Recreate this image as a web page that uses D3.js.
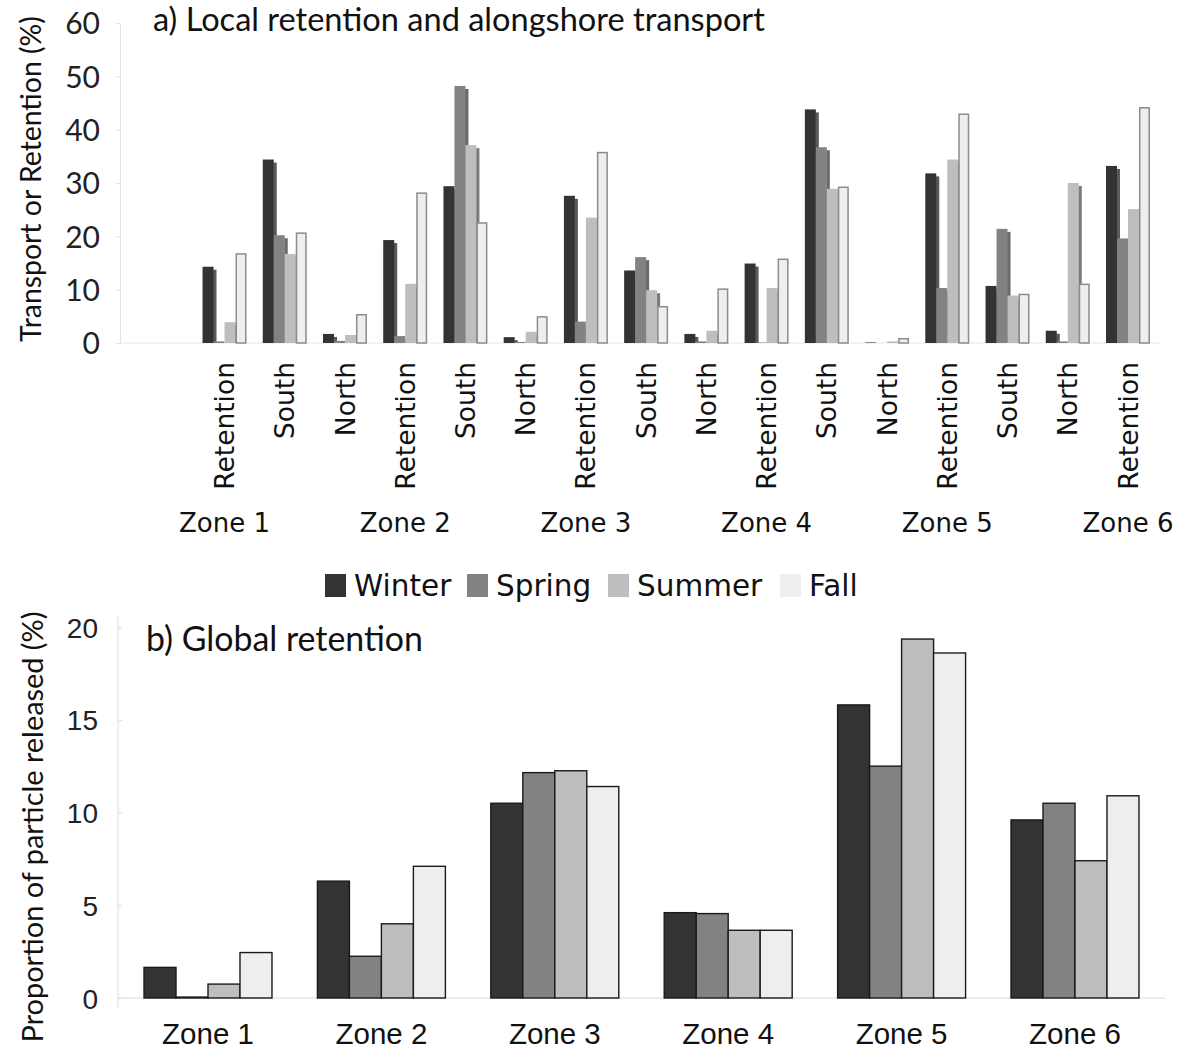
<!DOCTYPE html>
<html>
<head>
<meta charset="utf-8">
<script src="https://cdn.jsdelivr.net/npm/d3@7/dist/d3.min.js"></script>
<style>
  html, body { margin: 0; padding: 0; background: #fff; }
  svg { display: block; }
</style>
</head>
<body>
<svg id="chart" width="1191" height="1049"></svg>
<script>
// ---------- DATA ----------
const seasons = ["Winter", "Spring", "Summer", "Fall"];
const topCategories = ["Retention","South","North","Retention","South","North","Retention","South",
                       "North","Retention","South","North","Retention","South","North","Retention"];
const zoneLabels = ["Zone 1","Zone 2","Zone 3","Zone 4","Zone 5","Zone 6"];
// index of the category under which each zone label is written
const zoneLabelCategory = [0, 3, 6, 9, 12, 15];

const topWinter = [14.3, 34.4, 1.7, 19.3, 29.4, 1.1, 27.6, 13.6, 1.7, 14.9, 43.8, 0.1, 31.8, 10.7, 2.3, 33.2];
const topSpring = [0.3, 20.2, 0.4, 1.3, 48.2, 0.2, 4.0, 16.1, 0.3, 0.1, 36.7, 0.0, 10.3, 21.4, 0.3, 19.6];
const topSummer = [3.9, 16.7, 1.5, 11.1, 37.1, 2.1, 23.5, 9.9, 2.3, 10.3, 28.9, 0.3, 34.4, 8.9, 30.0, 25.1];
const topFall   = [16.7, 20.6, 5.3, 28.1, 22.5, 4.9, 35.7, 6.8, 10.1, 15.7, 29.2, 0.8, 42.9, 9.1, 11.0, 44.1];

const globalWinter = [1.65, 6.3, 10.5, 4.6, 15.8, 9.6];
const globalSpring = [0.05, 2.25, 12.15, 4.55, 12.5, 10.5];
const globalSummer = [0.75, 4.0, 12.25, 3.65, 19.35, 7.4];
const globalFall   = [2.45, 7.1, 11.4, 3.65, 18.6, 10.9];

const topTicks = [0, 10, 20, 30, 40, 50, 60];
const bottomTicks = [0, 5, 10, 15, 20];

// ---------- STYLE ----------
const fills   = { Winter: "#333333", Spring: "#828282", Summer: "#bebebe", Fall: "#eeeeee" };
const shadows = { Winter: "#5a5a5a", Spring: "#6a6a6a", Summer: "#7a7a7a", Fall: "none" };
const gill = "Lato, 'Open Sans', sans-serif";
const verd = "'DejaVu Sans', Verdana, sans-serif";
const helv = "'Liberation Sans', Arial, sans-serif";

const svg = d3.select("#chart");

function fitWidth(sel, target) {
  const node = sel.node();
  const fs = parseFloat(sel.attr("font-size"));
  const w = node.getComputedTextLength();
  if (w > 0) sel.attr("font-size", (fs * target / w).toFixed(2));
}

// =============== PANEL A ===============
const topSeries = { Winter: topWinter, Spring: topSpring, Summer: topSummer, Fall: topFall };
const xA = d3.scaleBand().domain(d3.range(topCategories.length))
  .range([194.4, 1158.1]).paddingInner(0.27).paddingOuter(0.135);
const xAin = d3.scaleBand().domain(seasons).range([0, xA.bandwidth()]);
const yA = d3.scaleLinear().domain([0, 60]).range([343, 23]);

const gA = svg.append("g");

// axis
const axA = gA.append("g").attr("transform", "translate(120,0)")
  .call(d3.axisLeft(yA).tickValues(topTicks).tickSize(4).tickFormat(d3.format("d")));
axA.select(".domain").attr("stroke", "#e2e2e2");
axA.selectAll(".tick line").attr("stroke", "#e2e2e2");
axA.selectAll(".tick text").attr("font-family", gill).attr("font-size", 30)
  .attr("fill", "#222").attr("x", -20).attr("dy", "0.36em");

// baseline
gA.append("line").attr("x1", 120).attr("x2", 1160).attr("y1", yA(0)).attr("y2", yA(0))
  .attr("stroke", "#e6e6e6");

// bars with shadow
topCategories.forEach((c, i) => {
  const g = gA.append("g").attr("transform", `translate(${xA(i)},0)`);
  seasons.forEach(s => {
    const v = topSeries[s][i];
    const x = xAin(s), w = xAin.bandwidth();
    const y = yA(v), h = yA(0) - yA(v);
    if (shadows[s] !== "none" && h > 3) {
      g.append("rect").attr("x", x + w - 0.5).attr("y", y + 3).attr("width", 3.5)
        .attr("height", Math.max(0, h - 3)).attr("fill", shadows[s]);
    }
    const r = g.append("rect").attr("x", x).attr("y", y).attr("width", w)
      .attr("height", h).attr("fill", fills[s]);
    if (s === "Fall") r.attr("stroke", "#8c8c8c").attr("stroke-width", 1.5)
      .attr("x", x + 0.75).attr("width", w - 1.5);
  });
});

// category labels (rotated)
topCategories.forEach((c, i) => {
  const cx = xA(i) + xA.bandwidth() / 2;
  gA.append("text").attr("transform", `translate(${cx},362) rotate(-90)`)
    .attr("text-anchor", "end").attr("dy", "0.36em")
    .attr("font-family", verd).attr("font-size", 26.5).attr("fill", "#111").text(c);
});

// zone labels
zoneLabels.forEach((z, k) => {
  const cx = xA(zoneLabelCategory[k]) + xA.bandwidth() / 2;
  gA.append("text").attr("x", cx).attr("y", 532).attr("text-anchor", "middle")
    .attr("font-family", verd).attr("font-size", 26).attr("fill", "#111").text(z);
});

// title
const tA = gA.append("text").attr("x", 153).attr("y", 31)
  .attr("font-family", gill).attr("font-size", 30).attr("fill", "#111")
  .text("a) Local retention and alongshore transport");
fitWidth(tA, 612);

// y label
const ylA = gA.append("text").attr("transform", "translate(41,179) rotate(-90)")
  .attr("text-anchor", "middle")
  .attr("font-family", gill).attr("font-size", 28).attr("fill", "#111")
  .text("Transport or Retention (%)");
fitWidth(ylA, 326);

// =============== LEGEND ===============
const legendX = [325, 467, 608, 780];
const legG = svg.append("g");
seasons.forEach((s, k) => {
  legG.append("rect").attr("x", legendX[k]).attr("y", 574).attr("width", 21).attr("height", 23)
    .attr("fill", fills[s]);
  legG.append("text").attr("x", legendX[k] + 29).attr("y", 596)
    .attr("font-family", verd).attr("font-size", 29.5).attr("fill", "#111").text(s);
});

// =============== PANEL B ===============
const globalSeries = { Winter: globalWinter, Spring: globalSpring, Summer: globalSummer, Fall: globalFall };
const xB = d3.scaleBand().domain(zoneLabels).range([121.3, 1161.7]).paddingInner(0.262).paddingOuter(0.131);
const xBin = d3.scaleBand().domain(seasons).range([0, xB.bandwidth()]);
const yB = d3.scaleLinear().domain([0, 20]).range([998, 627]);

const gB = svg.append("g");
const axB = gB.append("g").attr("transform", "translate(122,0)")
  .call(d3.axisLeft(yB).tickValues(bottomTicks).tickSize(4).tickFormat(d3.format("d")));
axB.select(".domain").attr("stroke", "#dcdcdc").attr("d", "M-4,1008V615");
axB.selectAll(".tick line").attr("stroke", "#dcdcdc");
axB.selectAll(".tick text").attr("font-family", helv).attr("font-size", 28)
  .attr("fill", "#222").attr("x", -24).attr("dy", "0.36em");

gB.append("line").attr("x1", 118).attr("x2", 1165).attr("y1", yB(0)).attr("y2", yB(0))
  .attr("stroke", "#dcdcdc");

zoneLabels.forEach((z, i) => {
  const g = gB.append("g").attr("transform", `translate(${xB(z)},0)`);
  seasons.forEach(s => {
    const v = globalSeries[s][i];
    g.append("rect").attr("x", xBin(s)).attr("y", yB(v))
      .attr("width", xBin.bandwidth()).attr("height", yB(0) - yB(v))
      .attr("fill", fills[s]).attr("stroke", "#1a1a1a").attr("stroke-width", 1.4);
  });
  gB.append("text").attr("x", xB(z) + xB.bandwidth() / 2).attr("y", 1044)
    .attr("text-anchor", "middle").attr("font-family", helv).attr("font-size", 29.5)
    .attr("fill", "#111").text(z);
});

const tB = gB.append("text").attr("x", 146).attr("y", 651)
  .attr("font-family", gill).attr("font-size", 29).attr("fill", "#111")
  .text("b) Global retention");
fitWidth(tB, 277);

const ylB = gB.append("text").attr("transform", "translate(43,827) rotate(-90)")
  .attr("text-anchor", "middle")
  .attr("font-family", gill).attr("font-size", 28).attr("fill", "#111")
  .text("Proportion of particle released (%)");
fitWidth(ylB, 431);
</script>
</body>
</html>
